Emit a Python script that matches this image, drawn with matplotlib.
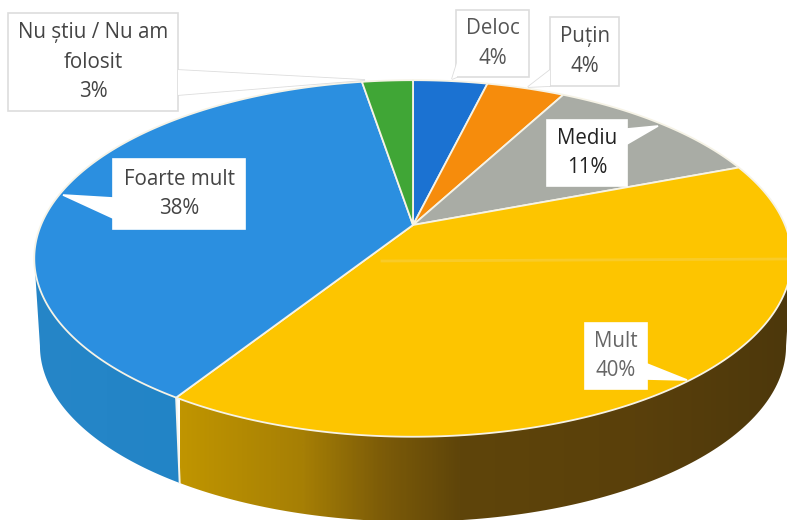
import numpy as np
import matplotlib
matplotlib.use('Agg')
import matplotlib.pyplot as plt
from matplotlib.colors import LinearSegmentedColormap
from matplotlib.patches import Polygon, Rectangle

names = ['Deloc', 'Puțin', 'Mediu', 'Mult', 'Foarte mult', 'Nu știu / Nu am\nfolosit']
shares = [3.8, 4.0, 11.4, 39.8, 38.4, 2.6]
colors = ['#1b72d2', '#f68c0c', '#a9aca5', '#fdc500', '#2b8fe0', '#40a636']
text_colors = ['#555555', '#4a4a4a', '#222222', '#666666', '#444444', '#444444']

# label box: left, top, right, bottom, then pointer (3 points), px of the page
boxes = [
    (456, 10, 529, 77, [(457, 63), (452, 79), (457, 77)]),
    (550, 17, 619, 86, [(550, 70), (528, 87), (550, 86)]),
    (547, 120, 627, 186, [(627, 129), (658, 126), (627, 144)]),
    (585, 323, 647, 389, [(647, 364), (687, 380), (647, 379)]),
    (113, 159, 245, 229, [(113, 198), (63, 195), (113, 218)]),
    (8, 13, 178, 111, [(178, 70), (365, 80), (178, 95)]),
]
outlined = [True, True, False, False, False, True]

W, H = 787, 520
cx, cy = 413, 225
A, B, k = 372, 172, 0.1877
depth, shrink = 88, 0.985


def rim(frac, s=1.0, dy=0.0):
    # circle seen in perspective, frac 0 at top going clockwise
    t = 2 * np.pi * np.asarray(frac)
    u, v = np.sin(t), np.cos(t)
    d = 1 + k * v
    return np.column_stack([cx + s * A * u / d, cy + dy - s * B * v / d])


def side_poly(f0, f1):
    fr = np.linspace(f0, f1, 120)
    return np.vstack([rim(fr), rim(fr[::-1], shrink, depth)])


fig = plt.figure(figsize=(W / 100, H / 100), dpi=100)
ax = fig.add_axes([0, 0, 1, 1])
ax.set_xlim(0, W)
ax.set_ylim(H, 0)
ax.axis('off')

edges = np.cumsum([0] + shares) / sum(shares)

# side walls
left_end = 0.72
right_end = 0.28
blue_cmap = LinearSegmentedColormap.from_list('b', ['#2686c8', '#2284c6'])
gold_cmap = LinearSegmentedColormap.from_list('g', [
    (0.0, '#c09500'), (0.2, '#a67f05'), (0.33, '#7d5c08'), (0.46, '#5f450a'),
    (0.75, '#5a400b'), (1.0, '#4d380c')])
grad = np.linspace(0, 1, 400).reshape(1, -1)

for f0, f1, cmap, x0, x1 in [(edges[4], left_end, blue_cmap, 35, 180),
                             (right_end, edges[4], gold_cmap, 180, W)]:
    poly = Polygon(side_poly(f0, f1), closed=True, fc='none', ec='none')
    ax.add_patch(poly)
    im = ax.imshow(grad, cmap=cmap, extent=[x0, x1, H, 0], aspect='auto', zorder=1)
    im.set_clip_path(poly)
ax.set_xlim(0, W)
ax.set_ylim(H, 0)

# seam between the two walls
seam = np.vstack([rim([edges[4]]), rim([edges[4]], shrink, depth)])
ax.plot(seam[:, 0], seam[:, 1], color='#f4f4ee', lw=1.4, zorder=2)

# top face
for i, c in enumerate(colors):
    fr = np.linspace(edges[i], edges[i + 1], 200)
    pts = np.vstack([[cx, cy], rim(fr)])
    ax.add_patch(Polygon(pts, closed=True, fc=c, ec='#f6f3e6', lw=1.3, joinstyle='round', zorder=3))

# scan streak over the yellow slice
ax.plot([382, W], [261, 259], color='#f3d873', lw=2, alpha=0.35, zorder=4)

# labels
for name, share, box, out, tc in zip(names, shares, boxes, outlined, text_colors):
    l, t, r, b, ptr = box
    ec = '#dddddd' if out else 'white'
    ax.add_patch(Polygon(ptr, closed=True, fc='white', ec=ec, lw=1.2, zorder=5))
    ax.add_patch(Rectangle((l, t), r - l, b - t, fc='white', ec=ec, lw=1.2, zorder=5))
    ax.add_patch(Polygon(ptr, closed=True, fc='white', ec='none', zorder=6))
    lines = name.split('\n') + ['{:.0f}%'.format(share)]
    step = 29.5
    mid = (t + b) / 2
    for j, line in enumerate(lines):
        y = mid + (j - (len(lines) - 1) / 2) * step
        ax.text((l + r) / 2, y, line, ha='center', va='center', fontsize=14.8,
                family='Open Sans', color=tc, zorder=7)

fig.savefig('out.png', dpi=100, facecolor='white')
